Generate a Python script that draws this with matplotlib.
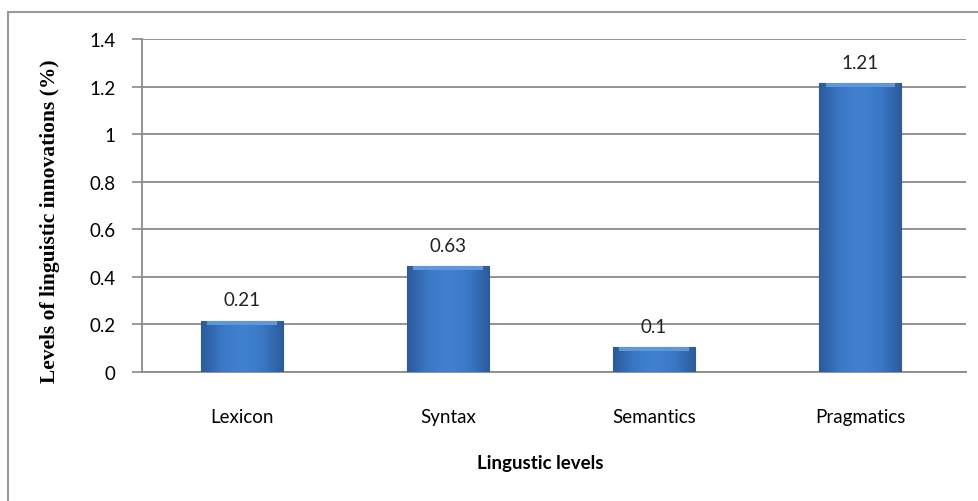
import numpy as np
import matplotlib.pyplot as plt
from matplotlib.colors import LinearSegmentedColormap
from matplotlib.patches import Rectangle

categories = ['Lexicon', 'Syntax', 'Semantics', 'Pragmatics']
bar_heights = [0.215, 0.444, 0.104, 1.215]
value_labels = ['0.21', '0.63', '0.1', '1.21']
y_ticks = [0, 0.2, 0.4, 0.6, 0.8, 1.0, 1.2, 1.4]
y_tick_labels = ['0', '0.2', '0.4', '0.6', '0.8', '1', '1.2', '1.4']

fig = plt.figure(figsize=(9.79, 5.02), dpi=100)
ax = fig.add_axes([0.145, 0.257, 0.842, 0.663])

x = np.arange(len(categories))
bars = ax.bar(x, bar_heights, width=0.40, color='#3b74c0', edgecolor='#2c5590',
              linewidth=0.8, zorder=3)

# fake the bevelled look with a gradient clipped to each bar
cmap = LinearSegmentedColormap.from_list('bev', ['#2c5b9a', '#3a78c6', '#4182d0', '#3a78c6', '#2c5b9a'])
grad = np.linspace(0, 1, 64).reshape(1, -1)
for b in bars:
    x0, w, h = b.get_x(), b.get_width(), b.get_height()
    im = ax.imshow(grad, cmap=cmap, aspect='auto', extent=(x0, x0 + w, 0, h), zorder=3.5)
    im.set_clip_path(b)
    top = Rectangle((x0 + w * 0.08, h - 0.016), w * 0.84, 0.016, color='#5f97dc', lw=0, zorder=4)
    ax.add_patch(top)
    top.set_clip_path(b)

for xi, h, lab in zip(x, bar_heights, value_labels):
    ax.annotate(lab, (xi, h), xytext=(0, 9), textcoords='offset points',
                ha='center', va='bottom', fontsize=13.5, family='Lato', color='#222222')

ax.set_xlim(-0.485, len(categories) - 0.485)
ax.set_ylim(0, 1.4)
ax.set_yticks(y_ticks)
ax.set_yticklabels(y_tick_labels, family='Lato', fontsize=13.5)
ax.set_xticks(x)
ax.set_xticklabels(categories, family='Lato', fontsize=13.5)
ax.tick_params(axis='x', length=0, pad=26)
ax.tick_params(axis='y', length=7, width=1.2, color='#8a8a8a', pad=12)
ax.yaxis.grid(True, color='#8a8a8a', linewidth=1.3, zorder=0)
ax.set_axisbelow(True)
for s in ['top', 'right']:
    ax.spines[s].set_visible(False)
ax.spines['left'].set_color('#8a8a8a')
ax.spines['left'].set_linewidth(1.3)
ax.spines['bottom'].set_color('#8a8a8a')
ax.spines['bottom'].set_linewidth(1.3)

fig.text(0.552, 0.077, 'Lingustic levels', ha='center', va='center',
         fontsize=13.5, fontweight='bold', family='Lato')
fig.text(0.051, 0.56, 'Levels of linguistic innovations (%)', ha='center', va='center',
         rotation=90, fontsize=15.5, fontweight='bold', family='Liberation Serif')

# outer chart frame (right and bottom run past the image edge)
fig.patches.append(Rectangle((8 / 979, -0.1), 1.2, 1 - 13 / 502 + 0.1, transform=fig.transFigure,
                             fill=False, edgecolor='#9a9a9a', linewidth=1.5))

fig.savefig('out.png', dpi=100)
